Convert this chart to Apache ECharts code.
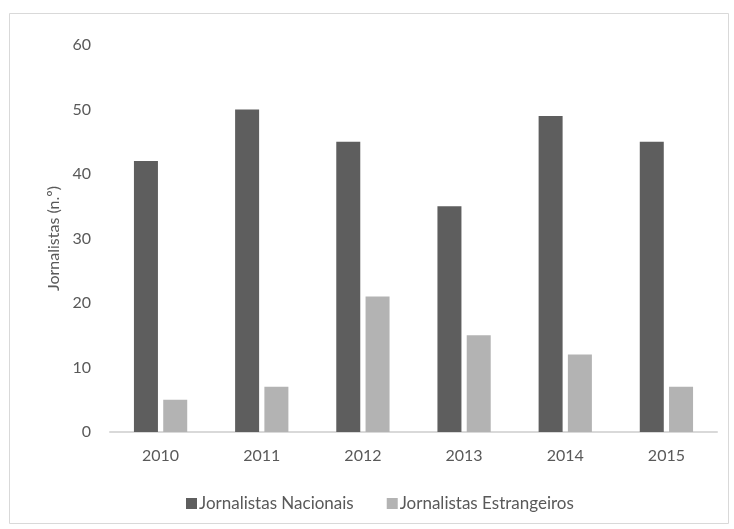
<!DOCTYPE html>
<html>
<head>
<meta charset="utf-8">
<script src="https://cdn.jsdelivr.net/npm/echarts@6/dist/echarts.min.js"></script>
<style>
  html, body { margin: 0; padding: 0; background: #fff; }
  #chart { width: 734px; height: 529px; }
</style>
</head>
<body>
<div id="chart"></div>
<script>
// Journalists per year, national vs foreign
const years = ['2010', '2011', '2012', '2013', '2014', '2015'];
const nacionais = [42, 50, 45, 35, 49, 45];
const estrangeiros = [5, 7, 21, 15, 12, 7];
const yTicks = { min: 0, max: 60, interval: 10 };

const FONT = 'Lato, "Open Sans", sans-serif';
const chart = echarts.init(document.getElementById('chart'), null, { renderer: 'canvas' });

chart.setOption({
  backgroundColor: '#ffffff',
  animation: false,
  textStyle: { fontFamily: FONT },
  graphic: [{
    type: 'rect',
    shape: { x: 9.5, y: 13.5, width: 719, height: 510 },
    style: { fill: 'none', stroke: '#d9d9d9', lineWidth: 1 },
    silent: true
  }],
  grid: { left: 110, right: 17, top: 45, bottom: 97 },
  legend: {
    data: ['Jornalistas Nacionais', 'Jornalistas Estrangeiros'],
    left: 181,
    top: 490,
    itemWidth: 11,
    itemHeight: 11,
    itemGap: 33,
    icon: 'rect',
    textStyle: { color: '#595959', fontSize: 17, fontFamily: FONT, padding: [0, 0, 0, -3] }
  },
  xAxis: {
    type: 'category',
    data: years,
    axisLine: { lineStyle: { color: '#d9d9d9', width: 2 } },
    axisTick: { show: false },
    axisLabel: { color: '#595959', fontSize: 16, margin: 16 }
  },
  yAxis: {
    type: 'value',
    min: yTicks.min,
    max: yTicks.max,
    interval: yTicks.interval,
    name: 'Jornalistas (n.º)',
    nameLocation: 'middle',
    nameGap: 44,
    nameRotate: 90,
    nameTextStyle: { color: '#595959', fontSize: 16 },
    axisLine: { show: false },
    axisTick: { show: false },
    splitLine: { show: false },
    axisLabel: { color: '#595959', fontSize: 16, margin: 19 }
  },
  series: [
    {
      name: 'Jornalistas Nacionais',
      type: 'bar',
      data: nacionais,
      barWidth: 24,
      barGap: '22%',
      itemStyle: { color: '#5e5e5e' }
    },
    {
      name: 'Jornalistas Estrangeiros',
      type: 'bar',
      data: estrangeiros,
      barWidth: 24,
      barGap: '22%',
      itemStyle: { color: '#b3b3b3' }
    }
  ]
});
</script>
</body>
</html>
